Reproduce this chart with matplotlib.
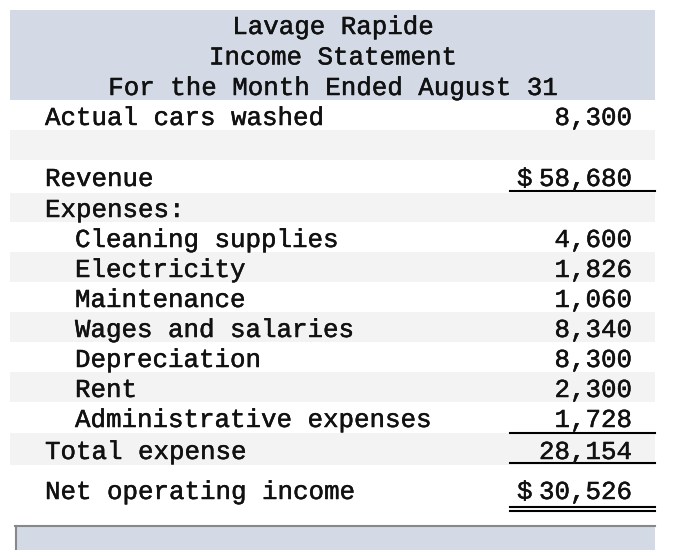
import matplotlib
matplotlib.use("Agg")
import matplotlib.pyplot as plt
import matplotlib.patheffects as pe
from matplotlib.patches import Rectangle

title_lines = ["Lavage Rapide", "Income Statement", "For the Month Ended August 31"]

labels = ["Actual cars washed", "", "Revenue", "Expenses:", "Cleaning supplies",
          "Electricity", "Maintenance", "Wages and salaries", "Depreciation",
          "Rent", "Administrative expenses", "Total expense", "Net operating income"]
values = ["8,300", "", "58,680", "", "4,600", "1,826", "1,060", "8,340",
          "8,300", "2,300", "1,728", "28,154", "30,526"]
dollar = [False, False, True, False, False, False, False, False, False,
          False, False, False, True]
indent = [0, 0, 0, 0, 1, 1, 1, 1, 1, 1, 1, 0, 0]

# row bands (top, bottom) in pixels
row_top = [100, 130, 160, 193, 222, 252, 282, 312, 342, 372, 402, 433, 465]
row_bot = [130, 160, 193, 222, 252, 282, 312, 342, 372, 402, 433, 465, 515]
row_base = [125, 154, 186, 217, 247, 277, 307, 337, 367, 397, 427, 459, 499]
shaded = [False, True, False, True, False, True, False, True, False, True, False, True, False]

W, H = 696, 550
fig = plt.figure(figsize=(W / 100, H / 100), dpi=100)
ax = fig.add_axes([0, 0, 1, 1])
ax.set_xlim(0, W)
ax.set_ylim(H, 0)
ax.axis("off")

FONT = "Liberation Mono"
FS = 18.6
LEFT = 10
RIGHT = 655
NUM_R = 632
txt = dict(family=FONT, fontsize=FS, color="#111111", va="baseline",
           path_effects=[pe.withStroke(linewidth=0.35, foreground="#111111")])

# header band
ax.add_patch(Rectangle((LEFT, 10), RIGHT - LEFT, 90, facecolor="#d3dae6", edgecolor="none"))
for i, t in enumerate(title_lines):
    ax.text(333, 34 + i * 30.5, t, ha="center", **txt)

for i in range(len(labels)):
    if shaded[i]:
        ax.add_patch(Rectangle((LEFT, row_top[i]), RIGHT - LEFT, row_bot[i] - row_top[i],
                               facecolor="#f3f3f3", edgecolor="none"))
    y = row_base[i]
    x = 45 + 30 * indent[i]
    ax.text(x, y, labels[i], ha="left", **txt)
    ax.text(NUM_R, y, values[i], ha="right", **txt)
    if dollar[i]:
        ax.text(517, y, "$", ha="left", **txt)

# rules under amounts
ax.plot([510, RIGHT], [190.5, 190.5], color="black", lw=1.5)
ax.plot([510, RIGHT], [432.5, 432.5], color="black", lw=1.5)
ax.plot([510, RIGHT], [462.5, 462.5], color="black", lw=1.5)
ax.plot([510, RIGHT], [506.5, 506.5], color="black", lw=1.5)
ax.plot([510, RIGHT], [510.5, 510.5], color="black", lw=1.5)

# bottom box
ax.add_patch(Rectangle((15, 526), RIGHT - 15, 30, facecolor="#d3dae6", edgecolor="none"))
ax.plot([15, RIGHT], [526, 526], color="#888888", lw=1.5)
ax.plot([15.5, 15.5], [526, 550], color="#888888", lw=1.5)

fig.savefig("out.png", dpi=100)
